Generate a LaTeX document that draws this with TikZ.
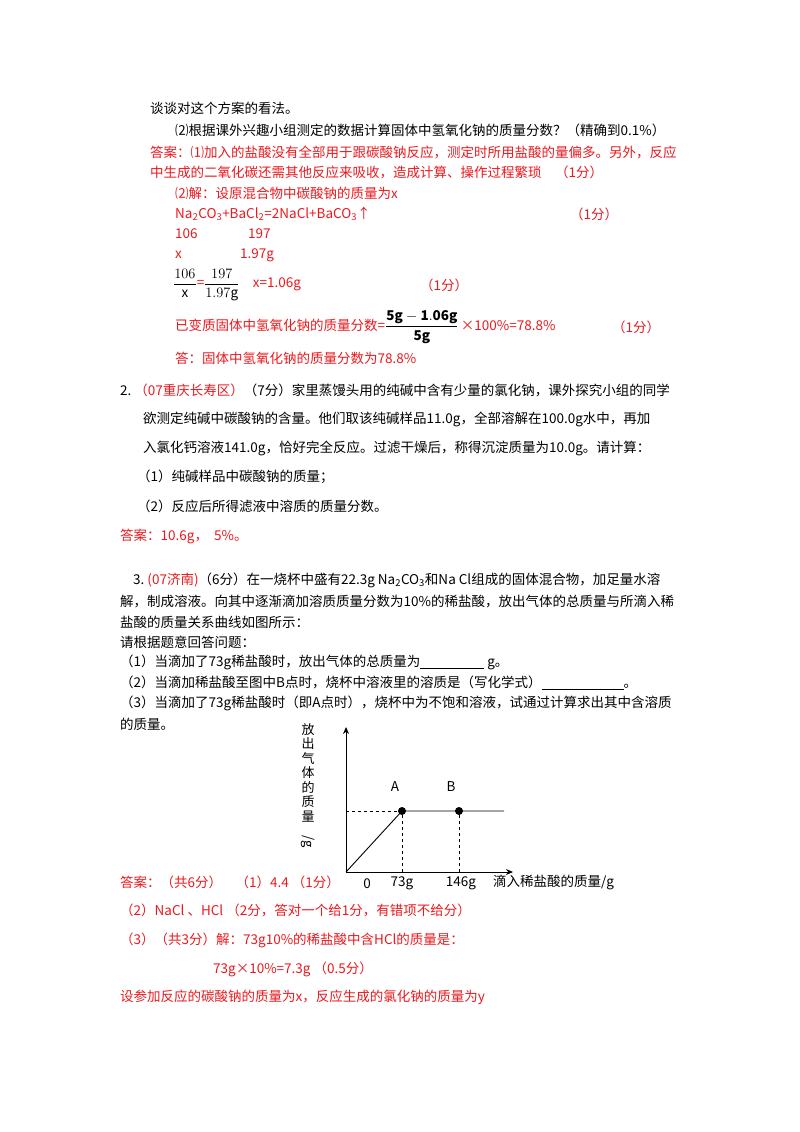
\documentclass[tikz,border=0pt]{standalone}
\usepackage{amsmath}
\usepackage{fontspec}
\setmainfont{Noto Sans CJK SC}
\usetikzlibrary{arrows.meta}
\definecolor{rd}{RGB}{235,25,30}
\tikzset{t/.style={anchor=west,inner sep=0pt,font=\fontsize{13.5}{16}\selectfont},
r/.style={t,text=rd},
ax/.style={line width=1pt,-{Stealth[length=7pt,width=6pt]}},
dl/.style={dashed,line width=0.9pt},
dot/.style={circle,fill=black,inner sep=0pt,minimum size=8pt}}
\begin{document}
\begin{tikzpicture}[x=1pt,y=-1pt]
\useasboundingbox (0,0) rectangle (800,1132);
\node[t] (l1) at (150,108) {谈谈对这个方案的看法。};
\node[t] (l2) at (175,130) {⑵根据课外兴趣小组测定的数据计算固体中氢氧化钠的质量分数？（精确到0.1\%）};
\node[r] (l3) at (150,152) {答案：⑴加入的盐酸没有全部用于跟碳酸钠反应，测定时所用盐酸的量偏多。另外，反应};
\node[r] (l4) at (150,172) {中生成的二氧化碳还需其他反应来吸收，造成计算、操作过程繁琐\quad（1分）};
\node[r] (l5) at (175,193) {⑵解：设原混合物中碳酸钠的质量为x};
\node[r] (l6) at (175,214) {Na\textsubscript{2}CO\textsubscript{3}+BaCl\textsubscript{2}=2NaCl+BaCO\textsubscript{3}↑};
\node[r] (l6b) at (570,214) {（1分）};
\node[r] (l7a) at (175,234) {106};
\node[r] (l7b) at (248,234) {197};
\node[r] (l8a) at (175,255) {x};
\node[r] (l8b) at (240,255) {1.97g};
\node[r] (l9) at (173,285) {{\color{black}$\dfrac{106}{\mathrm{x}}$}={\color{black}$\dfrac{197}{1.97\mathrm{g}}$}\quad x=1.06g};
\node[r] (l9b) at (420,285) {（1分）};
\node[r] (l10) at (175,327) {已变质固体中氢氧化钠的质量分数={\color{black}$\dfrac{\mathbf{5g-1.06g}}{\mathbf{5g}}$}\,×100\%=78.8\%};
\node[r] (l10b) at (612,327) {（1分）};
\node[r] (l11) at (175,358) {答：固体中氢氧化钠的质量分数为78.8\%};
\node[t] (m1) at (120,390) {2.\ {\color{rd}（07重庆长寿区）}（7分）家里蒸馒头用的纯碱中含有少量的氯化钠，课外探究小组的同学};
\node[t] (m2) at (143,419) {欲测定纯碱中碳酸钠的含量。他们取该纯碱样品11.0g，全部溶解在100.0g水中，再加};
\node[t] (m3) at (143,448) {入氯化钙溶液141.0g，恰好完全反应。过滤干燥后，称得沉淀质量为10.0g。请计算：};
\node[t] (m4) at (137,477) {（1）纯碱样品中碳酸钠的质量；};
\node[t] (m5) at (137,506) {（2）反应后所得滤液中溶质的质量分数。};
\node[r] (m6) at (120,536) {答案：10.6g，\ \ 5\%。};
\node[t] (n1) at (133,580) {3.\ {\color{rd}(07济南)}（6分）在一烧杯中盛有22.3g Na\textsubscript{2}CO\textsubscript{3}和Na Cl组成的固体混合物，加足量水溶};
\node[t] (n2) at (120,601) {解，制成溶液。向其中逐渐滴加溶质质量分数为10\%的稀盐酸，放出气体的总质量与所滴入稀};
\node[t] (n3) at (120,622) {盐酸的质量关系曲线如图所示：};
\node[t] (n4) at (120,642) {请根据题意回答问题：};
\node[t] (n5) at (120,662) {（1）当滴加了73g稀盐酸时，放出气体的总质量为\underline{\hspace{64pt}}\ g。};
\node[t] (n6) at (120,683) {（2）当滴加稀盐酸至图中B点时，烧杯中溶液里的溶质是（写化学式）\underline{\hspace{82pt}}。};
\node[t] (n7) at (120,703) {（3）当滴加了73g稀盐酸时（即A点时），烧杯中为不饱和溶液，试通过计算求出其中含溶质};
\node[t] (n8) at (120,724) {的质量。};
% graph
\coordinate (O) at (346,872);
\coordinate (Y) at (346,727);
\coordinate (X) at (513,872);
\coordinate (E) at (504,811);
\coordinate (Y0) at (346,811);
\coordinate (A0) at (402,872);
\coordinate (B0) at (459,872);
\draw[ax] (O) -- (Y);
\draw[ax] (O) -- (X);
\node[dot] (A) at (402,811) {};
\node[dot] (B) at (459,811) {};
\draw[line width=0.9pt] (O) -- (A.center) -- (B.center) -- (E);
\draw[dl] (Y0) -- (A);
\draw[dl] (A) -- (A0);
\draw[dl] (B) -- (B0);
\node[t,anchor=center] (la) at (395,787) {A};
\node[t,anchor=center] (lb) at (451,787) {B};
\node[t,anchor=north,align=center,font=\fontsize{13}{14.5}\selectfont] (yl) at (308,723) {放\\出\\气\\体\\的\\质\\量\\\rotatebox{-90}{/g}};
\node[t,anchor=center] (o) at (367,884) {0};
\node[t,anchor=center] (t73) at (402,883) {73g};
\node[t,anchor=center] (t146) at (461,883) {146g};
\node[t] (xl) at (493,882) {滴入稀盐酸的质量/g};
\node[r] (p1) at (120,882) {答案：（共6分）\quad（1）4.4 （1分）};
\node[r] (p2) at (120,910) {（2）NaCl 、HCl （2分，答对一个给1分，有错项不给分）};
\node[r] (p3) at (120,940) {（3）（共3分）解：73g10\%的稀盐酸中含HCl的质量是：};
\node[r] (p4) at (213,969) {73g×10\%=7.3g （0.5分）};
\node[r] (p5) at (120,997) {设参加反应的碳酸钠的质量为x，反应生成的氯化钠的质量为y};
\end{tikzpicture}
\end{document}
